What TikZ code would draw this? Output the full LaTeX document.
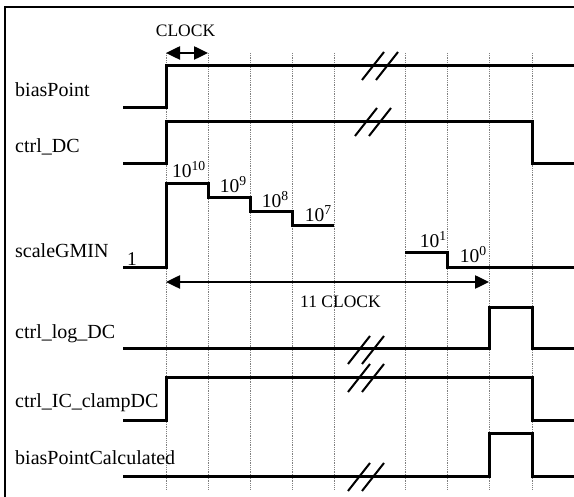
\documentclass[tikz,border=0pt]{standalone}
\usepackage{fontspec}
\setmainfont{Liberation Serif}
\usetikzlibrary{arrows.meta}

\begin{document}
\begin{tikzpicture}[x=1pt,y=-1pt,>={Triangle[length=14pt,width=13pt]},
  sig/.style={line width=3pt},
  clkline/.style={densely dotted, gray, line width=0.8pt},
  brk/.style={line width=2pt},
  signame/.style={anchor=base west, inner sep=0pt, font=\fontsize{20}{24}\selectfont},
  val/.style={anchor=base east, inner sep=0pt, font=\fontsize{19.5}{23}\selectfont},
  clk/.style={anchor=base, inner sep=0pt, font=\fontsize{17.5}{21}\selectfont}]
\useasboundingbox (0,0) rectangle (574,497);
\draw[line width=2pt] (5,497) |- (574,7);
% clock ticks
\foreach \x in {166,208,250,292,334,405,447,489,532}
  \draw[clkline] (\x,53) -- (\x,490);
% signal names
\node[signame] (bp) at (15,97) {biasPoint};
\node[signame] (dc) at (15,153) {ctrl\_DC};
\node[signame] (gmin) at (15,258) {scaleGMIN};
\node[signame] (logdc) at (15,339) {ctrl\_log\_DC};
\node[signame] (clamp) at (15,408) {ctrl\_IC\_clampDC};
\node[signame] (bpc) at (15,465) {biasPointCalculated};
% waveforms
\draw[sig] (123,108) -- (166,108) -- (166,66) -- (574,66);
\draw[sig] (123,164) -- (166,164) -- (166,122) -- (532,122) -- (532,164) -- (574,164);
\draw[sig] (123,268) -- (166,268) -- (166,184) -- (208,184) -- (208,198) -- (250,198)
  -- (250,212) -- (292,212) -- (292,226) -- (334,226);
\draw[sig] (405,253) -- (447,253) -- (447,268) -- (574,268);
\draw[sig] (123,349) -- (489,349) -- (489,308) -- (532,308) -- (532,349) -- (574,349);
\draw[sig] (123,421) -- (166,421) -- (166,378) -- (532,378) -- (532,421) -- (574,421);
\draw[sig] (123,477) -- (489,477) -- (489,434) -- (532,434) -- (532,477) -- (574,477);
% time breaks
\foreach \x/\y in {373/66,387/66,366/122,380/122,359/350,373/350,359/378,373/378,359/477,373/477}
  \draw[brk] (\x-11,\y+14) -- (\x+11,\y-14);
% scale values
\node[val, anchor=base] (g) at (132,266) {1};
\node[val] (g10) at (206,178) {10\textsuperscript{10}};
\node[val] (g9) at (247,193) {10\textsuperscript{9}};
\node[val] (g8) at (289,208) {10\textsuperscript{8}};
\node[val] (g7) at (332,222) {10\textsuperscript{7}};
\node[val] (g1) at (447,248) {10\textsuperscript{1}};
\node[val] (g0) at (487,263) {10\textsuperscript{0}};
% clock arrows
\coordinate (clkL) at (166,53);
\coordinate (clkR) at (208,53);
\draw[<->, line width=2.5pt] (clkL) -- (clkR);
\node[clk] (clock) at (185.5,37) {CLOCK};
\coordinate (runL) at (166,282);
\coordinate (runR) at (489,282);
\draw[<->, line width=2.5pt] (runL) -- (runR);
\node[clk] (run) at (340.5,308) {11 CLOCK};
\end{tikzpicture}
\end{document}
